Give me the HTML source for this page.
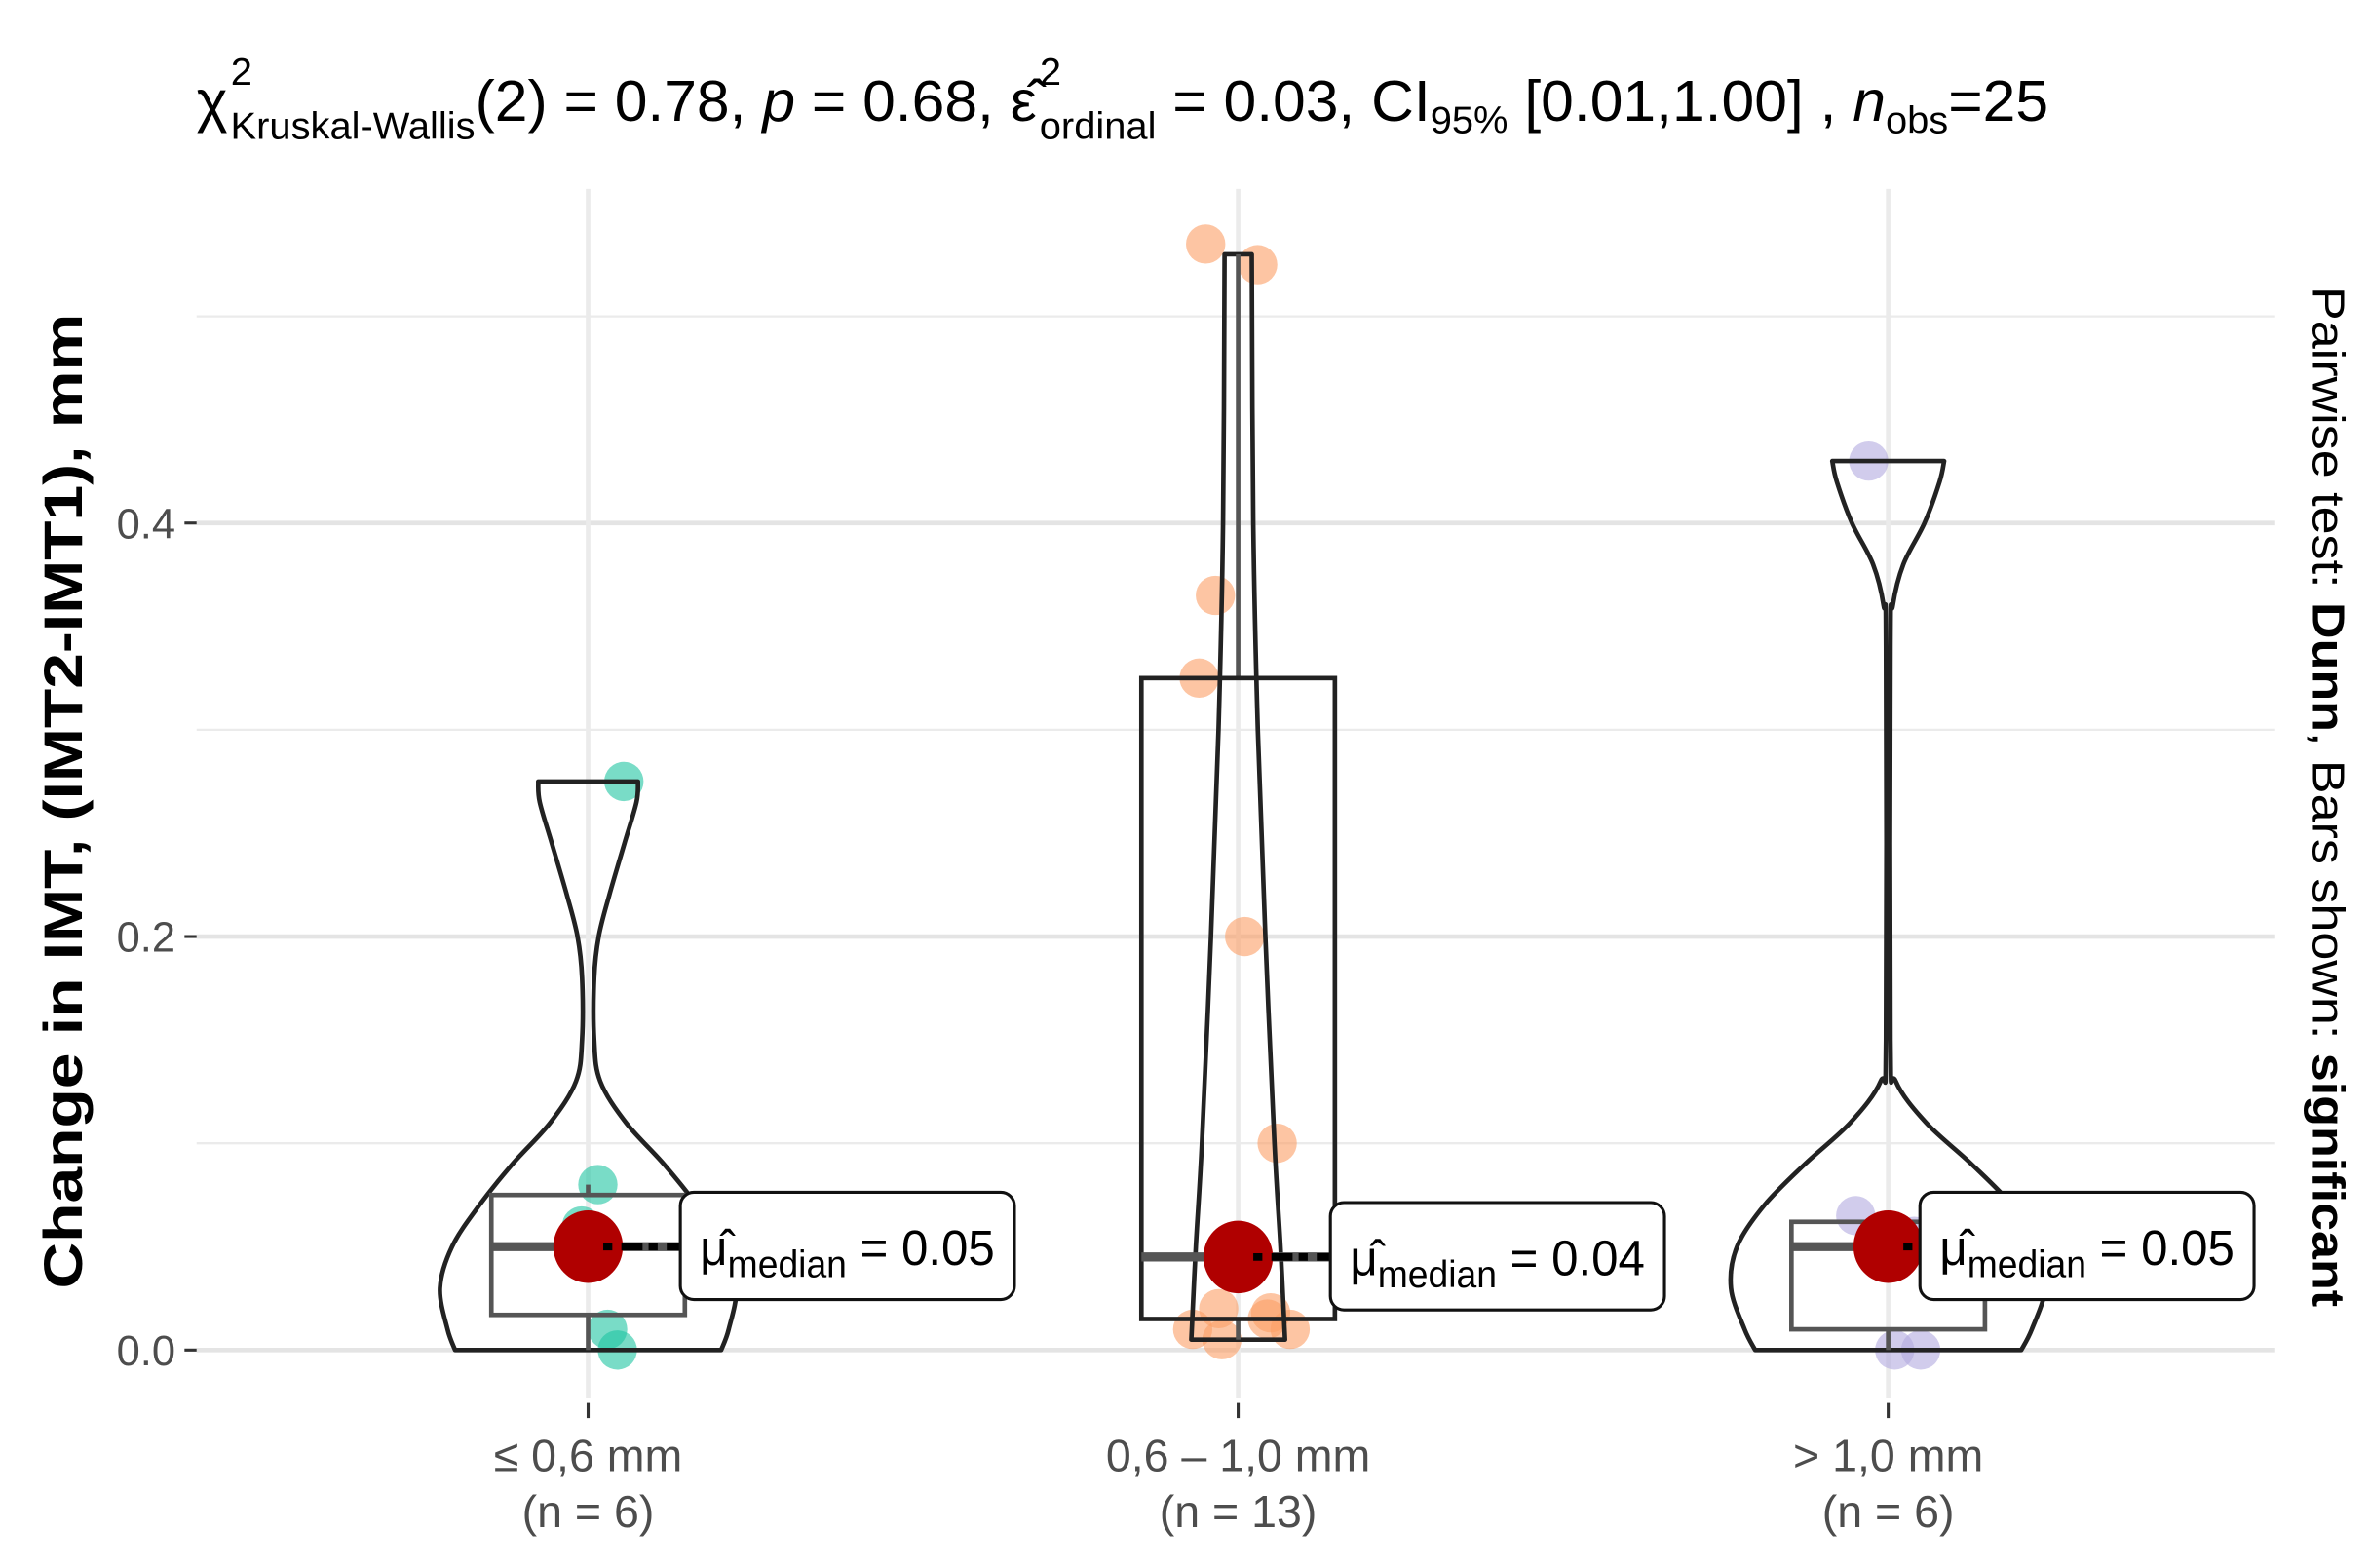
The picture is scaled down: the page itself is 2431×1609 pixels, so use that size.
<!DOCTYPE html>
<html><head><meta charset="utf-8"><style>
html,body{margin:0;padding:0;background:#fff;}
svg{display:block;font-family:"Liberation Sans",sans-serif;}
</style></head><body>
<svg id="chart" width="2431" height="1609" viewBox="0 0 1567 1037.2" xmlns="http://www.w3.org/2000/svg">
<rect x="0" y="0" width="1567" height="1037.2" fill="#fff"/>
<g id="grid"></g>
<g id="marks"></g>
<text x="130" y="80" font-size="38" fill="#000" textLength="1225" lengthAdjust="spacingAndGlyphs">χ<tspan font-size="25" dy="-24" dx="2">2</tspan><tspan font-size="25" dy="36" dx="-14">Kruskal-Wallis</tspan><tspan dy="-12">(2) = 0.78, </tspan><tspan font-style="italic">p</tspan><tspan> = 0.68, ε̂</tspan><tspan font-size="25" dy="-24" dx="2">2</tspan><tspan font-size="25" dy="36" dx="-14">ordinal</tspan><tspan dy="-12"> = 0.03, CI</tspan><tspan font-size="25" dy="8">95%</tspan><tspan dy="-8"> [0.01,1.00] , </tspan><tspan font-style="italic">n</tspan><tspan font-size="25" dy="8">obs</tspan><tspan dy="-8">=25</tspan></text>
<text transform="translate(54,530) rotate(-90)" text-anchor="middle" font-size="36" font-weight="bold" fill="#000" textLength="645" lengthAdjust="spacingAndGlyphs">Change in IMT, (IMT2-IMT1), mm</text>
<text transform="translate(1530,527) rotate(90)" text-anchor="middle" font-size="30" fill="#000" textLength="675" lengthAdjust="spacingAndGlyphs">Pairwise test: <tspan font-weight="bold">Dunn</tspan>, Bars shown: <tspan font-weight="bold">significant</tspan></text>
</svg>
<script>
const categories = ["≤ 0,6 mm", "0,6 – 1,0 mm", "> 1,0 mm"];
const counts = [6, 13, 6];
const yTicks = [0.0, 0.2, 0.4];
const yTickLabels = ["0.0", "0.2", "0.4"];
const yMinor = [0.1, 0.3, 0.5];
const medians = [0.05, 0.045, 0.05];
const medianLabels = ["0.05", "0.04", "0.05"];
const q1 = [0.017, 0.015, 0.01];
const q3 = [0.075, 0.325, 0.062];
const whLo = [0.0, 0.005, 0.0];
const whHi = [0.08, 0.53, 0.065];
const pts1 = [0.275, 0.08, 0.06, 0.05, 0.01, 0.0];
const pts2 = [0.535, 0.525, 0.365, 0.325, 0.2, 0.1, 0.045, 0.02, 0.018, 0.015, 0.01, 0.01, 0.005];
const pts3 = [0.43, 0.065, 0.055, 0.05, 0.0, 0.0];
const jit1 = [0.055, 0.015, -0.01, 0.0, 0.03, 0.045];
const jit2 = [-0.05, 0.03, -0.035, -0.06, 0.01, 0.06, 0.0, -0.03, 0.05, 0.045, -0.07, 0.08, -0.025];
const jit3 = [-0.03, -0.05, 0.04, 0.0, 0.01, 0.05];
// violin outlines: [value, relative half-width]
const vio1 = [[0,0.88],[0.01,0.93],[0.03,0.98],[0.05,0.9],[0.07,0.72],[0.09,0.5],[0.11,0.25],[0.13,0.08],[0.15,0.04],[0.18,0.04],[0.2,0.07],[0.22,0.14],[0.245,0.24],[0.265,0.32],[0.275,0.33]];
const vio2 = [[0.005,0.31],[0.05,0.28],[0.1,0.24],[0.2,0.18],[0.3,0.13],[0.4,0.1],[0.53,0.09]];
const vio3 = [[0,0.88],[0.01,0.95],[0.03,1.04],[0.05,1.0],[0.07,0.82],[0.09,0.55],[0.11,0.25],[0.13,0.05],[0.15,0.015],[0.34,0.015],[0.36,0.03],[0.38,0.1],[0.40,0.24],[0.42,0.34],[0.43,0.37]];
const pts = [pts1, pts2, pts3], jits = [jit1, jit2, jit3], vios = [vio1, vio2, vio3];
const colors = ["#1fc4a2", "#fb9e66", "#b3aae0"];
const labelOffset = [61, 61, 21];

const X0 = 389, XSTEP = 430, Y0 = 893, YPER = 1367.5, BAND = 100;
const xs = i => X0 + i * XSTEP;
const ys = v => Y0 - v * YPER;
const NS = "http://www.w3.org/2000/svg";
function mk(tag, attrs, parent) {
  const e = document.createElementNS(NS, tag);
  for (const k in attrs) e.setAttribute(k, attrs[k]);
  parent.appendChild(e); return e;
}
function smooth(P) {
  let d = 'M' + P[0][0] + ',' + P[0][1];
  for (let i = 0; i < P.length - 1; i++) {
    const p0 = P[Math.max(0, i-1)], p1 = P[i], p2 = P[i+1], p3 = P[Math.min(P.length-1, i+2)];
    const c1 = [p1[0] + (p2[0]-p0[0])/6, p1[1] + (p2[1]-p0[1])/6];
    const c2 = [p2[0] - (p3[0]-p1[0])/6, p2[1] - (p3[1]-p1[1])/6];
    d += ' C' + c1[0] + ',' + c1[1] + ' ' + c2[0] + ',' + c2[1] + ' ' + p2[0] + ',' + p2[1];
  }
  return d;
}
const grid = document.getElementById('grid');
const marks = document.getElementById('marks');
yMinor.forEach(v => {
  const l = mk('line', {x1:130, x2:1505, y1:ys(v), y2:ys(v), stroke:'#ebebeb', 'stroke-width':1.5}, grid);
  
  
});
yTicks.forEach((v, i) => {
  const l = mk('line', {x1:130, x2:1505, y1:ys(v), y2:ys(v), stroke:'#e4e4e4', 'stroke-width':3}, grid);
  
  
  const t = mk('line', {x1:122, x2:130, y1:ys(v), y2:ys(v), stroke:'#333', 'stroke-width':2}, grid);
  
  
  const tx = mk('text', {x:116, y:ys(v)+10, 'text-anchor':'end', 'font-size':28, fill:'#4d4d4d'}, grid);
  tx.textContent = yTickLabels[i];
  
  
});
categories.forEach((c, i) => {
  const l = mk('line', {x1:xs(i), x2:xs(i), y1:125, y2:925, stroke:'#ebebeb', 'stroke-width':3}, grid);
  
  
  const t = mk('line', {x1:xs(i), x2:xs(i), y1:928, y2:938, stroke:'#333', 'stroke-width':2}, grid);
  
  
  const a = mk('text', {x:xs(i), y:973, 'text-anchor':'middle', 'font-size':30, fill:'#4d4d4d'}, grid);
  a.textContent = c;
  
  
  const b = mk('text', {x:xs(i), y:1010, 'text-anchor':'middle', 'font-size':30, fill:'#4d4d4d'}, grid);
  b.textContent = '(n = ' + counts[i] + ')';
  
  
});
categories.forEach((c, i) => {
  const cx = xs(i);
  pts[i].forEach((v, j) => {
    const p = mk('circle', {cx: cx + jits[i][j]*XSTEP, cy: ys(v), r: 13, fill: colors[i], 'fill-opacity': 0.6}, marks);
    
    
  });
  const v = vios[i];
  const right = v.map(p => [cx + p[1]*BAND, ys(p[0])]);
  const left = v.slice().reverse().map(p => [cx - p[1]*BAND, ys(p[0])]);
  let d = smooth(right) + ' L' + left[0][0] + ',' + left[0][1] + ' ' + smooth(left).slice(1).replace(/^[^C]*/, '') + ' Z';
  const vp = mk('path', {d: d, fill: 'none', stroke: '#222', 'stroke-width': 3, 'stroke-linejoin': 'round'}, marks);
  
  
  const w1 = mk('line', {x1:cx, x2:cx, y1:ys(whLo[i]), y2:ys(q1[i]), stroke:'#555', 'stroke-width':3}, marks);
  
  
  const w2 = mk('line', {x1:cx, x2:cx, y1:ys(q3[i]), y2:ys(whHi[i]), stroke:'#555', 'stroke-width':3}, marks);
  
  
  const bx = mk('rect', {x:cx-64, y:ys(q3[i]), width:128, height:ys(q1[i])-ys(q3[i]), fill:'none', stroke: i==1?'#222':'#555', 'stroke-width':3}, marks);
  
  
  const ml = mk('line', {x1:cx-64, x2:cx+64, y1:ys(medians[i]), y2:ys(medians[i]), stroke:'#555', 'stroke-width':6}, marks);
  
  
  const md = mk('ellipse', {cx:cx, cy:ys(medians[i]), rx:23, ry:24, fill:'#b00000'}, marks);
  
  
  const lo = labelOffset[i];
  const sg = mk('line', {x1:cx+10, x2:cx+lo, y1:ys(medians[i]), y2:ys(medians[i]), stroke:'#000', 'stroke-width':5, 'stroke-dasharray':'6 6 14 4'}, marks);
  
  
  const ly = ys(medians[i]);
  const lb = mk('rect', {x:cx+lo, y:ly-36, width:221, height:71, rx:9, fill:'#fff', stroke:'#111', 'stroke-width':2}, marks);
  
  
  const lt = mk('text', {x:cx+lo+13, y:ly+12, 'font-size':33, fill:'#000', textLength:195, lengthAdjust:'spacingAndGlyphs'}, marks);
  
  
  lt.innerHTML = 'μ̂<tspan font-size="25" dy="8">median</tspan><tspan dy="-8"> = ' + medianLabels[i] + '</tspan>';
});
</script>
</body></html>
